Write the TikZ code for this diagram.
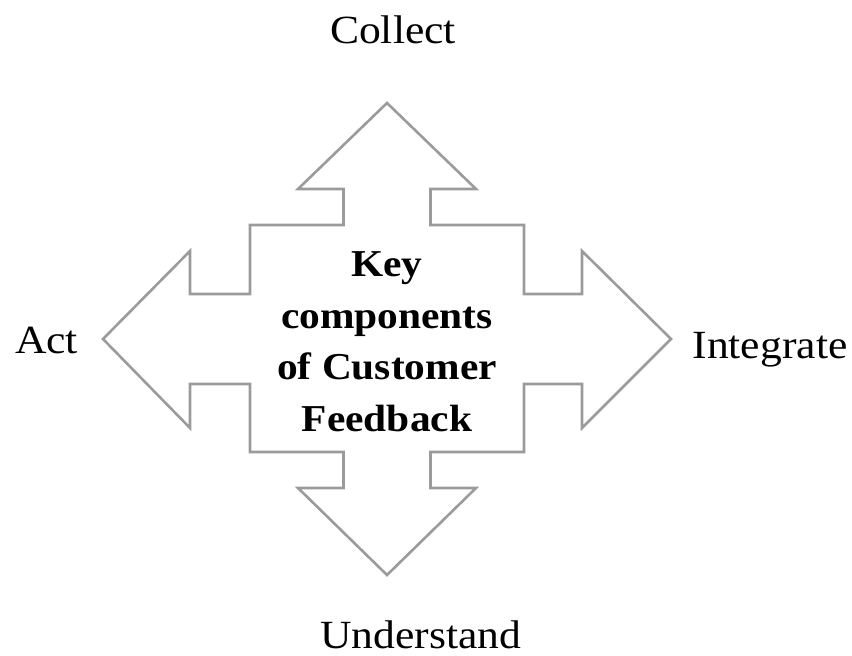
\documentclass[tikz,border=0pt]{standalone}
\usepackage{fontspec}
\setmainfont{Liberation Serif}[FakeStretch=1.09]
\definecolor{outlinegray}{RGB}{155,155,155}
\tikzset{
  quadarrow/.style={draw=outlinegray, line width=2.6pt, line join=miter, fill=white},
  dirlabel/.style={anchor=base, inner sep=0pt, font=\fontsize{40}{48}\selectfont},
  core/.style={align=center, inner sep=0pt, font=\bfseries\fontsize{38}{51.5}\selectfont}
}
\begin{document}
\begin{tikzpicture}[x=1pt,y=-1pt]
\useasboundingbox (0,0) rectangle (852,656);
% four-way block arrow outline
\draw[quadarrow]
  (387,103) -- (476,189) -- (430.5,189) -- (430.5,225) -- (524,225)
  -- (524,294) -- (582,294) -- (582,251) -- (671,339) -- (582,428)
  -- (582,384) -- (524,384) -- (524,452) -- (430.5,452) -- (430.5,488)
  -- (476,488) -- (387,575) -- (298,488) -- (343.5,488) -- (343.5,452)
  -- (250,452) -- (250,384) -- (190,384) -- (190,428) -- (103,339)
  -- (190,251) -- (190,294) -- (250,294) -- (250,225) -- (343.5,225)
  -- (343.5,189) -- (298,189) -- cycle;
% direction labels
\node[dirlabel] (collect) at (393,43) {Collect};
\node[dirlabel] (act) at (46.5,353) {Act};
\node[dirlabel] (integrate) at (770,358) {Integrate};
\node[dirlabel] (understand) at (421,648) {Understand};
% central title
\node[core] (title) at (387,341.5) {Key\\components\\of Customer\\Feedback};
\end{tikzpicture}
\end{document}
